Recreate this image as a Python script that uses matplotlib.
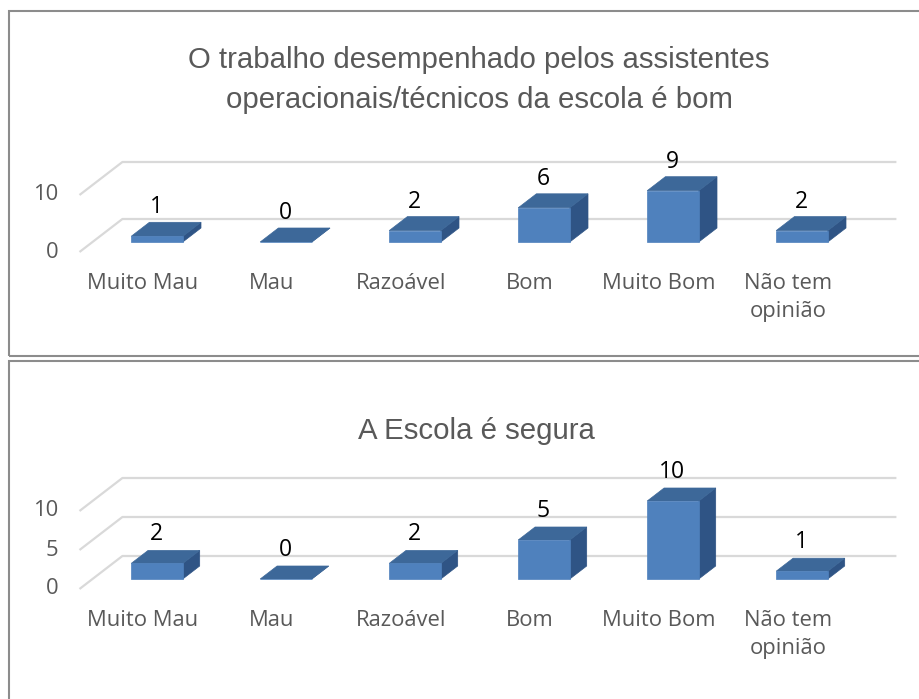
import matplotlib
matplotlib.use('Agg')
import matplotlib.pyplot as plt
from matplotlib.patches import Polygon, Rectangle
from matplotlib.transforms import offset_copy

# answers for the two survey questions
categories = ['Muito Mau', 'Mau', 'Razoável', 'Bom', 'Muito Bom', 'Não tem\nopinião']
trabalho = [1, 0, 2, 6, 9, 2]
seguranca = [2, 0, 2, 5, 10, 1]
ticks_trabalho = [0, 10]
ticks_seguranca = [0, 5, 10]
title_trabalho = 'O trabalho desempenhado pelos assistentes\noperacionais/técnicos da escola é bom'
title_seguranca = 'A Escola é segura'

W, H = 920, 699
FRONT = '#4F81BD'
TOP = '#3D6899'
SIDE = '#2F5485'
GRID = '#D9D9D9'
GRAY = '#595959'
LABEL_FONT = 'Open Sans'
LABEL_SIZE = 15.8
SLANT = 1.3  # horizontal shift per pixel of depth rise

fig = plt.figure(figsize=(W / 100, H / 100), dpi=100)


def px_axes(left, right, top, bottom):
    return fig.add_axes([left / W, 1 - bottom / H, (right - left) / W, (bottom - top) / H])


def draw_panel(ax, values, ticks, ymax, bar_rise):
    n = len(values)
    ax.set_xlim(-0.5, n - 0.5)
    ax.set_ylim(0, ymax)
    ax.axis('off')
    bb = ax.get_window_extent()
    ppx = bb.width / n
    ppy = bb.height / ymax

    def back(x, y, rise):
        return (x + SLANT * rise / ppx, y + rise / ppy)

    # side and back walls
    for t in ticks:
        pts = [back(-0.5, t, -10), back(-0.5, t, 23), back(n - 0.5, t, 23)]
        ax.plot([p[0] for p in pts], [p[1] for p in pts], color=GRID, lw=1.6,
                clip_on=False, zorder=1, solid_capstyle='butt')
        lab = offset_copy(ax.transData, fig=fig, x=-13 - 21, y=-10, units='dots')
        ax.text(-0.5, t, str(t), transform=lab, ha='right', va='center',
                family=LABEL_FONT, fontsize=LABEL_SIZE, color=GRAY)

    hw = 0.2
    for i, v in enumerate(values):
        side = [(i + hw, 0), (i + hw, v), back(i + hw, v, bar_rise), back(i + hw, 0, bar_rise)]
        top = [(i - hw, v), (i + hw, v), back(i + hw, v, bar_rise), back(i - hw, v, bar_rise)]
        ax.add_patch(Polygon(side, closed=True, fc=SIDE, ec=SIDE, lw=0.5, clip_on=False, zorder=2))
        ax.add_patch(Polygon(top, closed=True, fc=TOP, ec=TOP, lw=0.5, clip_on=False, zorder=2))
        ax.add_patch(Rectangle((i - hw, 0), 2 * hw, v, fc=FRONT, ec=FRONT, lw=0.5,
                               clip_on=False, zorder=3))
        val = offset_copy(ax.transData, fig=fig, x=-1, y=29, units='dots')
        ax.text(i, v, str(v), transform=val, ha='center', va='center',
                family=LABEL_FONT, fontsize=16.5, color='black', zorder=4)
        cat = offset_copy(ax.transData, fig=fig, x=-14, y=-31, units='dots')
        ax.text(i, 0, categories[i], transform=cat, ha='center', va='top',
                family=LABEL_FONT, fontsize=LABEL_SIZE, color=GRAY, linespacing=1.42)


ax1 = px_axes(92.5, 866.5, 185, 242)
draw_panel(ax1, trabalho, ticks_trabalho, 10, 14)
ax2 = px_axes(92.5, 866.5, 501, 579)
draw_panel(ax2, seguranca, ticks_seguranca, 10, 13)

fig.text(479 / W, 1 - 80 / H, title_trabalho, ha='center', va='center',
         family='Liberation Sans', fontsize=21.2, color=GRAY, linespacing=1.58)
fig.text(476 / W, 1 - 431 / H, title_seguranca, ha='center', va='center',
         family='Liberation Sans', fontsize=21.2, color=GRAY)

# chart area borders
fig.add_artist(Rectangle((9 / W, 1 - 356 / H), 1, (356 - 11) / H, fill=False,
                         ec='#8C8C8C', lw=1.5, transform=fig.transFigure))
fig.add_artist(Rectangle((9 / W, -0.1), 1, (1 - 361 / H) + 0.1, fill=False,
                         ec='#8C8C8C', lw=1.5, transform=fig.transFigure))

fig.savefig('out.png', dpi=100)
